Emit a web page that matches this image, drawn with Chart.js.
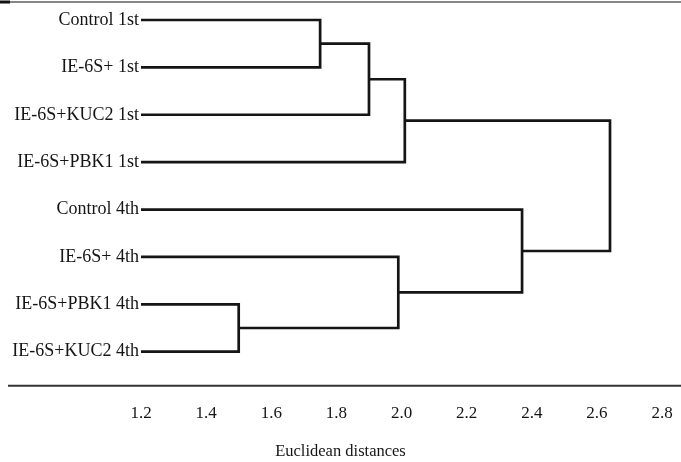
<!DOCTYPE html>
<html>
<head>
<meta charset="utf-8">
<script src="https://cdn.jsdelivr.net/npm/chart.js@4.4.1/dist/chart.umd.min.js"></script>
<style>
  html, body { margin: 0; padding: 0; background: #fff; }
  #wrap { width: 681px; height: 462px; position: relative; }
</style>
</head>
<body>
<div id="wrap"><canvas id="dendro"></canvas></div>
<script>
// hojas del dendrograma (de arriba a abajo)
const leafLabels = ['Control 1st', 'IE-6S+ 1st', 'IE-6S+KUC2 1st', 'IE-6S+PBK1 1st',
                    'Control 4th', 'IE-6S+ 4th', 'IE-6S+PBK1 4th', 'IE-6S+KUC2 4th'];

// uniones: los nodos 0-7 son hojas, la union i crea el nodo 8+i
const mergeLeft  = [0, 8, 9, 6, 5, 4, 10];
const mergeRight = [1, 2, 3, 7, 11, 12, 13];
const mergeDist  = [1.75, 1.90, 2.01, 1.50, 1.99, 2.37, 2.64];

const xTicks = [1.2, 1.4, 1.6, 1.8, 2.0, 2.2, 2.4, 2.6, 2.8];

const serif = '"Liberation Serif", "DejaVu Serif", serif';
const ink = '#151515';

// posicion (y) y altura (x) de cada nodo
let nodeY = leafLabels.map((l, i) => i);
let nodeX = leafLabels.map(() => 0);

const datasets = [];
for (let i = 0; i < mergeDist.length; i++) {
    let a = mergeLeft[i], b = mergeRight[i], d = mergeDist[i];
    datasets.push({
        data: [
            { x: nodeX[a], y: nodeY[a] },
            { x: d, y: nodeY[a] },
            { x: d, y: nodeY[b] },
            { x: nodeX[b], y: nodeY[b] }
        ],
        borderColor: ink,
        borderWidth: 2.7,
        pointRadius: 0,
        tension: 0,
        fill: false,
        borderJoinStyle: 'miter'
    });
    nodeY.push((nodeY[a] + nodeY[b]) / 2);
    nodeX.push(d);
}

// lineas del marco: arriba y el eje de abajo
const framePlugin = {
    id: 'frame',
    afterDraw(chart) {
        const ctx = chart.ctx;
        const area = chart.chartArea;
        ctx.save();
        ctx.strokeStyle = '#111';
        ctx.lineWidth = 1.2;
        ctx.beginPath();
        ctx.moveTo(0, area.top);
        ctx.lineTo(chart.width, area.top);
        ctx.stroke();
        ctx.lineWidth = 3;
        ctx.beginPath();
        ctx.moveTo(0, area.top);
        ctx.lineTo(10, area.top);
        ctx.stroke();
        ctx.strokeStyle = '#333';
        ctx.lineWidth = 2;
        ctx.beginPath();
        ctx.moveTo(8, area.bottom);
        ctx.lineTo(chart.width, area.bottom);
        ctx.stroke();
        ctx.restore();
    }
};

// sin el relleno extra que Chart.js deja para las etiquetas
const noPad = (s) => {
    s.paddingTop = 0;
    s.paddingBottom = 0;
    s.paddingLeft = 0;
    s.paddingRight = 0;
};

new Chart(document.getElementById('dendro'), {
    type: 'line',
    data: { datasets: datasets },
    options: {
        responsive: true,
        maintainAspectRatio: false,
        animation: false,
        layout: { padding: { top: 2, right: 0, bottom: 0, left: 0 } },
        plugins: {
            legend: { display: false },
            tooltip: { enabled: false },
            title: {
                display: true,
                position: 'bottom',
                text: 'Euclidean distances',
                color: ink,
                font: { family: serif, size: 16.5, weight: 'normal' },
                padding: { top: 0, bottom: 0 }
            }
        },
        scales: {
            x: {
                type: 'linear',
                min: 1.2,
                max: 2.858,
                afterBuildTicks: (s) => { s.ticks = xTicks.map(v => ({ value: v })); },
                afterFit: noPad,
                grid: { display: false, drawTicks: false },
                border: { display: false },
                ticks: {
                    color: ink,
                    font: { family: serif, size: 17 },
                    padding: 18,
                    maxRotation: 0,
                    autoSkip: false,
                    callback: (v) => Number(v).toFixed(1)
                }
            },
            y: {
                type: 'linear',
                reverse: true,
                min: -0.38,
                max: 7.72,
                afterBuildTicks: (s) => { s.ticks = leafLabels.map((l, i) => ({ value: i })); },
                afterFit: (s) => { noPad(s); s.width = 141; },
                grid: { display: false, drawTicks: false },
                border: { display: false },
                ticks: {
                    color: ink,
                    font: { family: serif, size: 18 },
                    padding: 2,
                    autoSkip: false,
                    callback: (v) => leafLabels[v]
                }
            }
        }
    },
    plugins: [framePlugin]
});
</script>
</body>
</html>
